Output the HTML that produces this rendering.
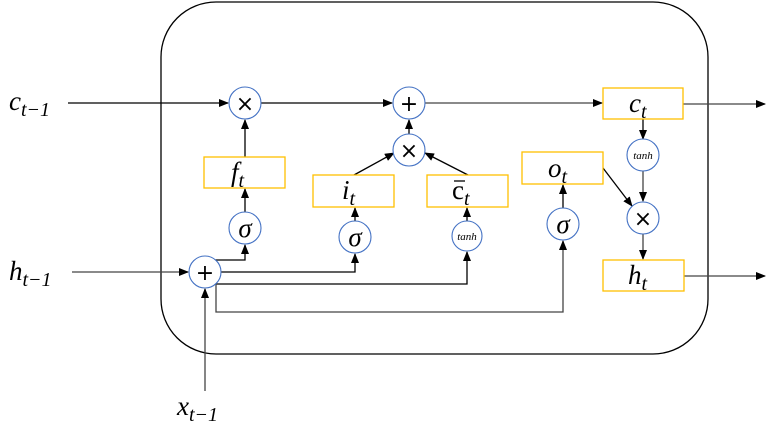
<!DOCTYPE html>
<html><head><meta charset="utf-8"><style>
html,body{margin:0;padding:0;background:#fff;}
svg{display:block;}
.m{font-family:"Liberation Serif",serif;font-style:italic;fill:#000;}
.o{font-family:"DejaVu Sans",sans-serif;font-style:normal;fill:#000;font-size:22px;text-anchor:middle;}
.s{font-family:"Liberation Serif",serif;font-style:italic;fill:#000;font-size:27px;text-anchor:middle;}
.th{font-family:"Liberation Serif",serif;font-style:italic;fill:#000;font-size:11px;text-anchor:middle;}
.L{font-size:27px;}
.sub{font-size:20px;}
</style></head><body>
<svg width="775" height="429" viewBox="0 0 775 429" xmlns="http://www.w3.org/2000/svg">
<defs>
<marker id="a" markerWidth="10" markerHeight="8" refX="9" refY="4" orient="auto" markerUnits="userSpaceOnUse">
<path d="M0,0 L10,4 L0,8 Z" fill="#000"/></marker>
</defs>
<rect x="161" y="2" width="547" height="352" rx="55" ry="55" fill="none" stroke="#000" stroke-width="1.3"/>
<g stroke="#000" stroke-width="1.3" fill="none">
<line x1="68" y1="103" x2="228" y2="103" marker-end="url(#a)"/>
<line x1="261" y1="103" x2="392" y2="103" marker-end="url(#a)"/>
<line x1="425" y1="103" x2="602" y2="103" stroke="#444" marker-end="url(#a)"/>
<line x1="683" y1="104" x2="765" y2="104" stroke="#444" marker-end="url(#a)"/>
<line x1="684" y1="276" x2="765" y2="276" stroke="#444" marker-end="url(#a)"/>
<line x1="72" y1="272" x2="188" y2="272" stroke="#444" marker-end="url(#a)"/>
<line x1="205" y1="391" x2="205" y2="289" stroke="#444" marker-end="url(#a)"/>
<polyline points="214,260 245,260 245,245" marker-end="url(#a)"/>
<polyline points="221,272 355,272 355,254" marker-end="url(#a)"/>
<polyline points="216,284 467,284 467,252" marker-end="url(#a)"/>
<polyline points="216,284 216,312 563,312 563,241" stroke="#444" marker-end="url(#a)"/>
<line x1="245" y1="212" x2="245" y2="189" marker-end="url(#a)"/>
<line x1="245" y1="157" x2="245" y2="120" marker-end="url(#a)"/>
<line x1="354" y1="175" x2="394" y2="153" marker-end="url(#a)"/>
<line x1="468" y1="175" x2="425" y2="153" marker-end="url(#a)"/>
<line x1="409" y1="134" x2="409" y2="120" marker-end="url(#a)"/>
<line x1="355" y1="221" x2="355" y2="208" marker-end="url(#a)"/>
<line x1="467" y1="221" x2="467" y2="208" marker-end="url(#a)"/>
<line x1="563" y1="208" x2="563" y2="185" marker-end="url(#a)"/>
<line x1="643" y1="119" x2="643" y2="139" marker-end="url(#a)"/>
<line x1="643" y1="171" x2="643" y2="201" stroke="#444" marker-end="url(#a)"/>
<line x1="603" y1="168" x2="632" y2="206" marker-end="url(#a)"/>
<line x1="643" y1="234" x2="643" y2="259" stroke="#444" marker-end="url(#a)"/>
</g>
<g fill="#fff" stroke="#ffc000" stroke-width="1.3">
<rect x="204" y="157" width="81" height="31"/>
<rect x="313" y="175" width="81" height="32"/>
<rect x="427" y="175" width="81" height="32"/>
<rect x="522" y="152" width="81" height="32"/>
<rect x="603" y="88" width="80" height="31"/>
<rect x="603" y="260" width="81" height="31"/>
</g>
<g fill="#fff" stroke="#4472c4" stroke-width="1.1">
<circle cx="245" cy="103" r="16"/>
<circle cx="409" cy="103" r="16"/>
<circle cx="409" cy="150" r="16"/>
<circle cx="245" cy="228" r="16"/>
<circle cx="355" cy="237" r="16"/>
<circle cx="467" cy="236" r="15"/>
<circle cx="563" cy="224" r="16"/>
<circle cx="205" cy="272" r="16"/>
<circle cx="643" cy="155" r="16"/>
<circle cx="643" cy="218" r="16"/>
</g>
<text class="o" x="245" y="111">×</text>
<text class="o" x="409" y="111">+</text>
<text class="o" x="409" y="158">×</text>
<text class="o" x="205" y="280">+</text>
<text class="o" x="643" y="226">×</text>
<text class="s" x="245" y="237">σ</text>
<text class="s" x="355" y="246">σ</text>
<text class="s" x="563" y="233">σ</text>
<text class="th" x="467" y="240">tanh</text>
<text class="th" x="643" y="159">tanh</text>
<text class="m L" x="231" y="181">f<tspan class="sub" dy="6">t</tspan></text>
<text class="m L" x="342" y="199">i<tspan class="sub" dy="6">t</tspan></text>
<text class="m L" x="452" y="199" style="font-style:normal">c<tspan class="sub" dy="6" style="font-style:italic">t</tspan></text>
<text class="m L" x="548" y="177">o<tspan class="sub" dy="6">t</tspan></text>
<text class="m L" x="629" y="112">c<tspan class="sub" dy="6">t</tspan></text>
<text class="m L" x="628" y="284">h<tspan class="sub" dy="6">t</tspan></text>
<text class="m L" x="9" y="110">c<tspan class="sub" dy="6">t−1</tspan></text>
<text class="m L" x="9" y="280">h<tspan class="sub" dy="6">t−1</tspan></text>
<text class="m L" x="177" y="415">x<tspan class="sub" dy="6">t−1</tspan></text>
<line x1="454" y1="181" x2="465" y2="181" stroke="#000" stroke-width="1.3"/>
</svg>
</body></html>
